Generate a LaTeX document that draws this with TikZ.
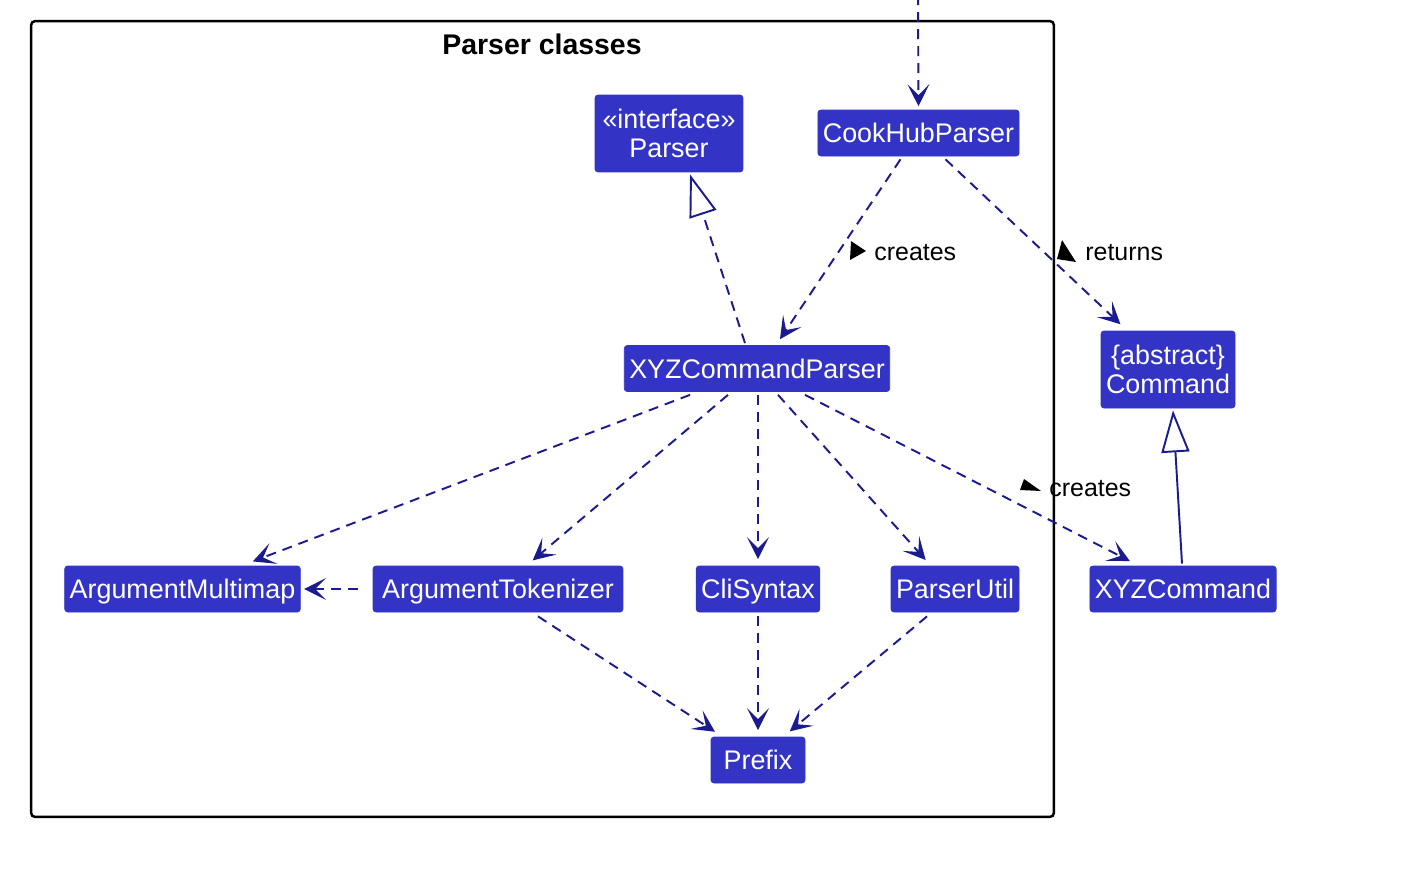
\documentclass[tikz,border=0pt]{standalone}
\usepackage{fontspec}
\setmainfont{Liberation Sans}
\usepackage{tikz}
\usetikzlibrary{arrows.meta,calc}
\definecolor{classblue}{HTML}{3333C5}
\definecolor{edgeblue}{HTML}{1B1B8F}

\begin{document}
\begin{tikzpicture}[
 x=0.02cm,y=-0.02cm,
 font=\fontsize{15.3}{16.5}\selectfont,
 box/.style={draw=classblue,fill=classblue,text=white,rounded corners=0.06cm,inner xsep=0.1cm,inner ysep=0pt,align=center},
 cls/.style={box,minimum height=0.92cm,text height=11pt,text depth=0pt},
 cls2/.style={box,minimum height=1.54cm},
 dep/.style={-{Stealth[length=4.4mm,width=4.4mm,inset=2.2mm]},draw=edgeblue,line width=1.1pt,dash pattern=on 5.7pt off 4pt,shorten >=2pt},
 real/.style={-{Triangle[open,length=8.4mm,width=5.6mm]},draw=edgeblue,line width=1.1pt},
 lbl/.style={font=\fontsize{14.2}{16}\selectfont,inner sep=0pt}
]
\useasboundingbox[fill=white] (0,0) rectangle (1420,880);
% package frame
\node[draw=black,line width=1.4pt,rounded corners=0.08cm,minimum width=20.46cm,minimum height=15.92cm,inner sep=0pt] (pkg) at (542.5,419) {};
\node[font=\fontsize{16.2}{18}\selectfont\bfseries,inner sep=0pt] (title) at (542,44) {Parser classes};
% classes
\node[cls2,minimum width=2.96cm] (parser) at (669,133.5) {«interface»\\Parser};
\node[cls] (cookhub) at (918.5,133) {CookHubParser};
\node[cls] (xyzparser) at (757,368.5) {XYZCommandParser};
\node[cls2] (command) at (1168,369.5) {\{abstract\}\\Command};
\node[cls] (multimap) at (182.5,589) {ArgumentMultimap};
\node[cls,minimum width=5cm] (tokenizer) at (498,589) {ArgumentTokenizer};
\node[cls] (clisyntax) at (758,589) {CliSyntax};
\node[cls] (parserutil) at (955,589) {ParserUtil};
\node[cls] (xyzcommand) at (1183,589) {XYZCommand};
\node[cls,minimum width=1.88cm] (prefix) at (758,760) {Prefix};
% edges
\coordinate (entry) at (918,-5);
\draw[dep] (entry) -- (cookhub.north);
\draw[real,dash pattern=on 5.7pt off 4pt] ($(xyzparser.north)+(-12,-2)$) -- ($(parser.south)+(21,2)$);
\draw[dep] ($(cookhub.south)+(-18,3)$) -- ($(xyzparser.north)+(21,-3)$);
\draw[dep] ($(cookhub.south)+(27,3)$) -- ($(command.north)+(-45,-4)$);
\draw[dep] ($(xyzparser.south)+(-67,3)$) -- ($(multimap.north)+(67,-3)$);
\draw[dep] ($(xyzparser.south)+(-29,3)$) -- ($(tokenizer.north)+(32,-3)$);
\draw[dep] ($(xyzparser.south)+(1,3)$) -- ($(clisyntax.north)+(0,-3)$);
\draw[dep] ($(xyzparser.south)+(21,3)$) -- ($(parserutil.north)+(-27,-3)$);
\draw[dep] ($(xyzparser.south)+(48,3)$) -- ($(xyzcommand.north)+(-50,-3)$);
\draw[dep] ($(tokenizer.west)+(-15,0)$) -- (multimap.east);
\draw[dep] ($(tokenizer.south)+(40,4)$) -- ($(prefix.north)+(-40,-3)$);
\draw[dep] ($(clisyntax.south)+(0,4)$) -- ($(prefix.north)+(0,-3)$);
\draw[dep] ($(parserutil.south)+(-28,4)$) -- ($(prefix.north)+(29,-3)$);
\draw[real] ($(xyzcommand.north)+(-1,-2)$) -- ($(command.south)+(5,2)$);
% labels
\node[lbl,anchor=west] (createsA) at (874,253) {creates};
\fill (851,241) -- (866,251) -- (850,260) -- cycle;
\node[lbl,anchor=west] (returns) at (1085,253) {returns};
\fill (1062,240) -- (1057,259) -- (1076,262) -- cycle;
\node[lbl,anchor=west] (createsB) at (1049,489) {creates};
\fill (1024,479) -- (1020,490) -- (1041,491) -- cycle;
\end{tikzpicture}
\end{document}
